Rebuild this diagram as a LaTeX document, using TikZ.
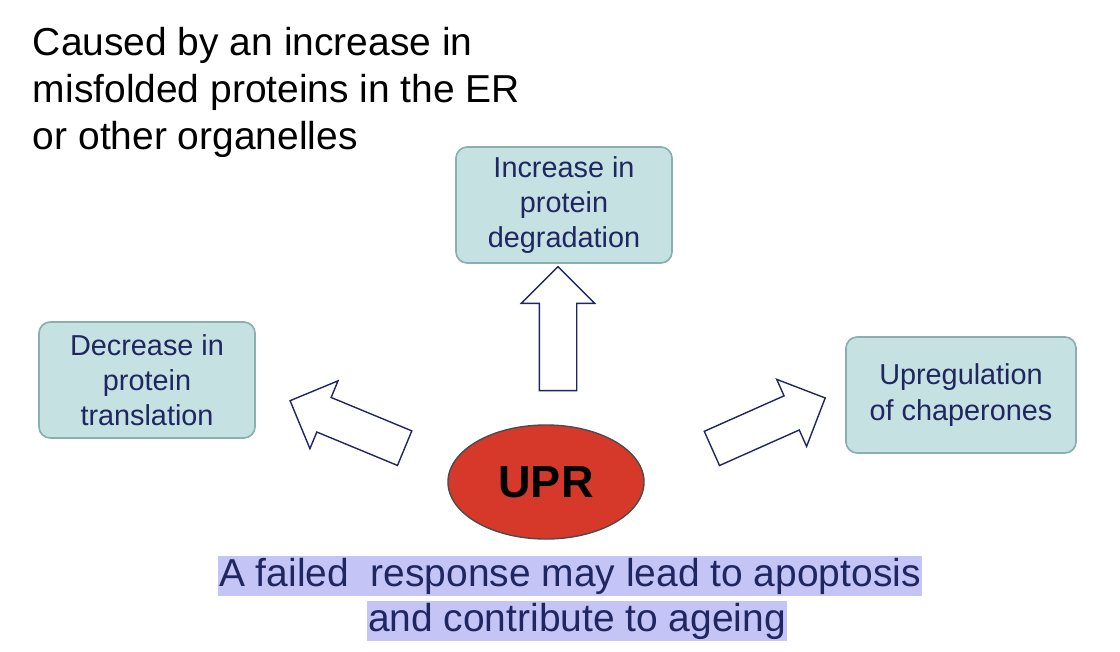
\documentclass[tikz,border=0pt]{standalone}
\usepackage{fontspec}
\setmainfont{Liberation Sans}
\usetikzlibrary{shapes.geometric,shapes.arrows}
\definecolor{boxfill}{HTML}{C5E1E1}
\definecolor{boxline}{HTML}{8AAFAF}
\definecolor{navy}{HTML}{1F2660}
\definecolor{uprred}{HTML}{D6392A}
\definecolor{hilite}{HTML}{C4C4F6}

\tikzset{
  effect/.style={draw=boxline, line width=1.2pt, fill=boxfill, rounded corners=8pt,
    text=navy, align=center, font=\fontsize{20.5}{25}\selectfont,
    minimum width=5.4cm, minimum height=2.9cm},
  blockarrow/.style={single arrow, draw=navy, line width=1pt, fill=white,
    inner xsep=0pt, inner ysep=0.45cm, single arrow head extend=0.45cm,
    minimum height=3.1cm},
  outcome/.style={fill=hilite, text=navy, inner sep=1pt, font=\fontsize{27.7}{30}\selectfont}
}

\begin{document}
\begin{tikzpicture}[x=0.025cm, y=-0.025cm]
\useasboundingbox (0,0) rectangle (1120,652);

% ---- Cause
\node (cause) [anchor=north west, align=left, font=\fontsize{27.7}{33.5}\selectfont] at (28,22)
  {Caused by an increase in\\misfolded proteins in the ER\\or other organelles};

% ---- Effect boxes
\node (degrade) [effect] at (564,205) {Increase in\\protein\\degradation};
\node (transl) [effect] at (147,380) {Decrease in\\protein\\translation};
\node (chap) [effect, minimum width=5.75cm] at (961,395) {Upregulation\\of chaperones};

% ---- UPR
\node (upr) [ellipse, draw=black!70, line width=1pt, fill=uprred, minimum width=4.9cm,
  minimum height=2.85cm, font=\fontsize{32}{34}\selectfont\bfseries] at (546,482) {UPR};

% ---- Block arrows
\node (aup) [blockarrow, rotate=90] at (558,338) {};
\node (aleft) [blockarrow, rotate=157.5] at (356,428) {};
\node (aright) [blockarrow, rotate=24] at (760,427) {};

% ---- Outcome
\node (fail) [outcome] at (570,576) {A failed~ response may lead to apoptosis};
\node (ageing) [outcome] at (577,621) {and contribute to ageing};
\end{tikzpicture}
\end{document}
